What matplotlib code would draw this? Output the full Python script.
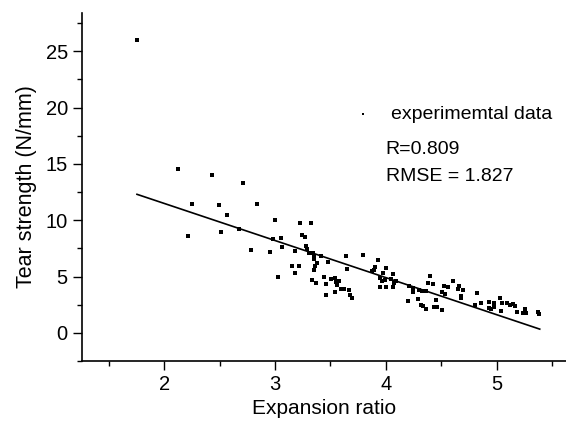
import matplotlib
matplotlib.use("Agg")
from matplotlib import pyplot as plt

plt.rcParams['font.family'] = ['Liberation Sans', 'DejaVu Sans']

# expansion ratio (x) and tear strength (y)
ratio = [1.754, 2.126, 2.428, 2.708, 2.250, 2.491, 2.837, 2.569, 2.996, 2.214,
         2.509, 2.677, 2.978, 3.051, 3.060, 2.780, 2.951, 3.023, 3.222, 3.321,
         3.243, 3.270, 3.279, 3.291, 3.182, 3.303, 3.342, 3.348, 3.414, 3.354,
         3.480, 3.637, 3.796, 3.378, 3.357, 3.153, 3.213, 3.652, 3.351, 3.180,
         3.445, 3.502, 3.541, 3.330, 3.369, 3.459, 3.547, 3.579, 3.556, 3.592,
         3.619, 3.664, 3.538, 3.459, 3.679, 3.691, 3.929, 3.902, 3.890, 3.877,
         4.001, 3.974, 4.067, 3.944, 3.965, 3.995, 4.043, 4.091, 4.076, 3.947,
         4.001, 4.067, 4.206, 4.242, 4.247, 4.296, 4.323, 4.395, 4.383, 4.428,
         4.359, 4.520, 4.506, 4.533, 4.197, 4.292, 4.320, 4.338, 4.365, 4.452,
         4.430, 4.457, 4.506, 4.608, 4.560, 4.659, 4.653, 4.693, 4.675, 4.675,
         4.825, 5.027, 4.856, 4.928, 4.978, 5.045, 5.096, 5.117, 5.144, 5.168,
         4.807, 4.928, 4.946, 4.976, 5.042, 5.186, 5.258, 5.237, 5.264, 5.370,
         5.382]
strength = [26.04, 14.58, 14.01, 13.30, 11.48, 11.33, 11.48, 10.44, 10.03, 8.56,
            8.94, 9.20, 8.32, 8.41, 7.61, 7.35, 7.19, 4.93, 9.76, 9.73,
            8.73, 8.52, 7.70, 7.46, 7.26, 7.11, 7.05, 6.81, 6.81, 6.58,
            6.26, 6.84, 6.90, 6.19, 5.90, 5.93, 5.96, 5.64, 5.55, 5.34,
            4.97, 4.81, 4.84, 4.72, 4.42, 4.31, 4.54, 4.60, 4.27, 3.89,
            3.89, 3.81, 3.60, 3.34, 3.34, 3.12, 6.49, 5.81, 5.60, 5.49,
            5.73, 5.28, 5.25, 4.84, 4.63, 4.72, 4.75, 4.60, 4.40, 4.04,
            4.07, 4.07, 4.13, 3.98, 3.65, 3.81, 3.72, 5.07, 4.40, 4.36,
            3.72, 4.13, 3.60, 3.48, 2.83, 3.01, 2.50, 2.36, 2.15, 2.95,
            2.30, 2.30, 2.04, 4.58, 4.04, 4.13, 3.89, 3.83, 3.30, 3.12,
            3.54, 3.12, 2.65, 2.74, 2.63, 2.68, 2.68, 2.48, 2.59, 2.36,
            2.45, 2.21, 2.12, 2.30, 1.92, 1.88, 2.10, 1.77, 1.77, 1.83,
            1.71]

# fitted line end points
fit_x = [1.754, 5.388]
fit_y = [12.30, 0.33]

fig = plt.figure(figsize=(5.66, 4.26), dpi=100)
ax = fig.add_axes([0.1443, 0.1526, 0.8557, 0.8169])

ax.scatter(ratio, strength, marker='s', s=7, color='black', linewidths=0,
           label='experimemtal data')
ax.plot(fit_x, fit_y, color='black', lw=1.2)

ax.set_xlim(1.255, 5.625)
ax.set_ylim(-2.39, 28.4)
ax.set_xticks([2, 3, 4, 5])
ax.set_xticks([1.5, 2.5, 3.5, 4.5, 5.5], minor=True)
ax.set_yticks([0, 5, 10, 15, 20, 25])
ax.set_yticks([-2.5, 2.5, 7.5, 12.5, 17.5, 22.5, 27.5], minor=True)

for side in ['top', 'right']:
    ax.spines[side].set_visible(False)
for side in ['left', 'bottom']:
    ax.spines[side].set_linewidth(1.2)

ax.tick_params(which='major', direction='out', length=6.5, width=1, labelsize=14.5)
ax.tick_params(which='minor', direction='out', length=3.6, width=1)

ax.set_xlabel('Expansion ratio', fontsize=15)
ax.set_ylabel('Tear strength (N/mm)', fontsize=15.5, labelpad=6)

ax.legend(loc='center left', bbox_to_anchor=(0.5623, 0.709), frameon=False,
          fontsize=14, markerscale=0.8, handlelength=0.9, handletextpad=1.0,
          borderpad=0, borderaxespad=0)

ax.text(0.628, 0.608, 'R=0.809', transform=ax.transAxes, fontsize=14,
        va='center', ha='left')
ax.text(0.628, 0.529, 'RMSE = 1.827', transform=ax.transAxes, fontsize=14,
        va='center', ha='left')

fig.savefig('out.png', dpi=100)
